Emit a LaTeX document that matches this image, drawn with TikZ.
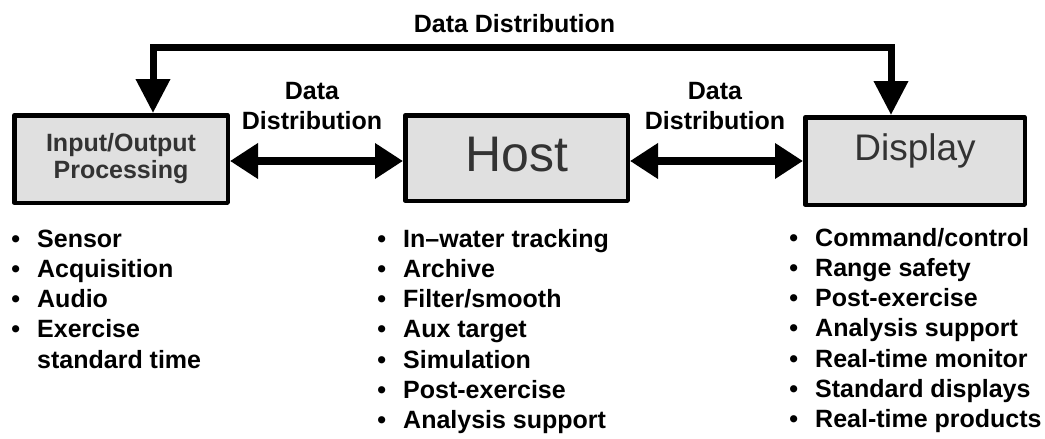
\documentclass[tikz,border=0pt]{standalone}
\usepackage{fontspec}
\setmainfont{Liberation Sans}
\usetikzlibrary{arrows.meta}
\definecolor{boxgray}{HTML}{E0E0E0}
\definecolor{boxtext}{HTML}{333333}
\tikzset{
  block/.style={draw, line width=4.5pt, line join=round, fill=boxgray, text=boxtext, align=center, inner sep=0pt},
  dist/.style={line width=8pt, {Triangle[length=28pt,width=34pt]}-{Triangle[length=28pt,width=34pt]}},
  feed/.style={line width=7pt, line join=miter, {Triangle[length=34pt,width=33pt]}-{Triangle[length=34pt,width=33pt]}},
  distlabel/.style={font=\bfseries\fontsize{25}{30}\selectfont, align=center, inner sep=0pt},
  itemlist/.style={font=\bfseries\fontsize{25}{30.3}\selectfont, inner sep=0pt, anchor=base west},
}
\newcommand{\bul}{\textbullet}
\begin{document}
\begin{tikzpicture}[x=1pt,y=-1pt]
	\useasboundingbox (0,0) rectangle (1045,439);

	% Blocks
	\node[block, minimum width=213.5pt, minimum height=87.5pt, font=\bfseries\fontsize{25}{27}\selectfont] (io) at (121,159) {Input/Output\\Processing};
	\node[block, minimum width=222.5pt, minimum height=85.5pt, font=\fontsize{50}{60}\selectfont, text depth=8pt] (host) at (516.5,158) {Host};
	\node[block, minimum width=219.5pt, minimum height=87.5pt, font=\fontsize{37}{44}\selectfont, text depth=28.5pt] (disp) at (915,161) {Display};

	% Data distribution over the top
	\coordinate (tl) at (153,47);
	\coordinate (tr) at (891,47);
	\draw[feed] (tl |- io.north) -- (tl) -- (tr) -- (tr |- disp.north);
	\node[distlabel, anchor=base] (toplbl) at (514.5,32) {Data Distribution};

	% Data distribution between blocks
	\draw[dist] ([yshift=-2pt]io.east) -- ([yshift=-2pt]io.east -| host.west);
	\node[distlabel] (leftlbl) at (312,106) {Data\\Distribution};
	\draw[dist] (disp.west -| host.east) -- (disp.west);
	\node[distlabel] (rightlbl) at (715,106) {Data\\Distribution};

	% Task lists
	\node[itemlist] (iolist) at (11.25,247) {\begin{tabular}[t]{@{}l@{\hspace{17pt}}l@{}}
		\bul & Sensor\\
		\bul & Acquisition\\
		\bul & Audio\\
		\bul & Exercise\\
		     & standard time
	\end{tabular}};
	\node[itemlist] (hostlist) at (377.25,247) {\begin{tabular}[t]{@{}l@{\hspace{17pt}}l@{}}
		\bul & In\textendash water tracking\\
		\bul & Archive\\
		\bul & Filter/smooth\\
		\bul & Aux target\\
		\bul & Simulation\\
		\bul & Post-exercise\\
		\bul & Analysis support
	\end{tabular}};
	\node[itemlist] (displist) at (789.25,246) {\begin{tabular}[t]{@{}l@{\hspace{17pt}}l@{}}
		\bul & Command/control\\
		\bul & Range safety\\
		\bul & Post-exercise\\
		\bul & Analysis support\\
		\bul & Real-time monitor\\
		\bul & Standard displays\\
		\bul & Real-time products
	\end{tabular}};
\end{tikzpicture}
\end{document}
